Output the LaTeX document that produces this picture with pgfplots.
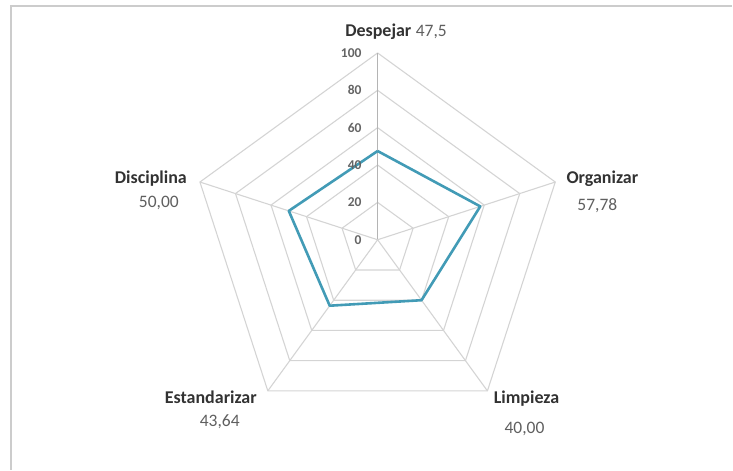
\documentclass[border=0pt]{standalone}
\usepackage{pgfplots}
\pgfplotsset{compat=1.18}
\usepgfplotslibrary{polar}
\usepackage{fontspec}
\setmainfont{Carlito}

\definecolor{gridgray}{RGB}{212,212,212}
\definecolor{spokegray}{RGB}{180,180,180}
\definecolor{series}{RGB}{66,155,182}
\definecolor{labeltext}{RGB}{50,50,50}
\definecolor{valuetext}{RGB}{95,95,95}
\definecolor{ticktext}{RGB}{100,100,100}

\begin{document}
\begin{tikzpicture}[x=1pt,y=1pt]
\path (0,0) rectangle (733,470);
% frame
\draw[gray!40, line width=1.5pt] (11,0) -- (11,464) -- (733,464);

\begin{polaraxis}[
  at={(378pt,230pt)}, anchor=center,
  scale only axis, width=374pt, height=374pt,
  xmin=0, xmax=360, ymin=0, ymax=100,
  hide axis, clip=false]
  % pentagonal grid
  \foreach \r in {20,40,60,80,100}{
    \addplot[gridgray, line width=1.1pt] coordinates
      {(90,\r) (18,\r) (-54,\r) (-126,\r) (162,\r) (90,\r)};
  }
  % spokes
  \addplot[spokegray, line width=1.1pt] coordinates {(90,0) (90,100)};
  \addplot[gridgray, line width=1.1pt] coordinates {(18,0) (18,100)};
  \addplot[gridgray, line width=1.1pt] coordinates {(-54,0) (-54,100)};
  \addplot[gridgray, line width=1.1pt] coordinates {(-126,0) (-126,100)};
  \addplot[gridgray, line width=1.1pt] coordinates {(162,0) (162,100)};
  % series: Despejar, Organizar, Limpieza, Estandarizar, Disciplina
  \addplot[series, line width=2.6pt, line join=round] coordinates
    {(90,47.5) (18,57.78) (-54,40.00) (-126,43.64) (162,50.00) (90,47.5)};
\end{polaraxis}

% radial tick labels
\foreach \v in {0,20,40,60,80,100}{
  \node[anchor=east, inner sep=0pt, text=ticktext,
        font=\fontsize{13.5}{15}\selectfont\bfseries]
    at (362, {230+1.87*\v}) {\v};
}

% category labels and values
\begin{scope}[font=\fontsize{17.5}{20}\selectfont]
\node[anchor=base east, inner sep=0pt, text=labeltext, font=\fontsize{18}{20}\selectfont\bfseries] at (412,433) {Despejar};
\node[anchor=base west, inner sep=0pt, text=valuetext] at (416,433) {47,5};

\node[anchor=base, inner sep=0pt, text=labeltext, font=\fontsize{18}{20}\selectfont\bfseries] at (603,286) {Organizar};
\node[anchor=base, inner sep=0pt, text=valuetext] at (598,259) {57,78};

\node[anchor=base, inner sep=0pt, text=labeltext, font=\fontsize{18}{20}\selectfont\bfseries] at (527,66) {Limpieza};
\node[anchor=base, inner sep=0pt, text=valuetext] at (525,36) {40,00};

\node[anchor=base, inner sep=0pt, text=labeltext, font=\fontsize{18}{20}\selectfont\bfseries] at (211,66) {Estandarizar};
\node[anchor=base, inner sep=0pt, text=valuetext] at (220,43) {43,64};

\node[anchor=base, inner sep=0pt, text=labeltext, font=\fontsize{18}{20}\selectfont\bfseries] at (151,286) {Disciplina};
\node[anchor=base, inner sep=0pt, text=valuetext] at (159,262) {50,00};
\end{scope}
\end{tikzpicture}
\end{document}
